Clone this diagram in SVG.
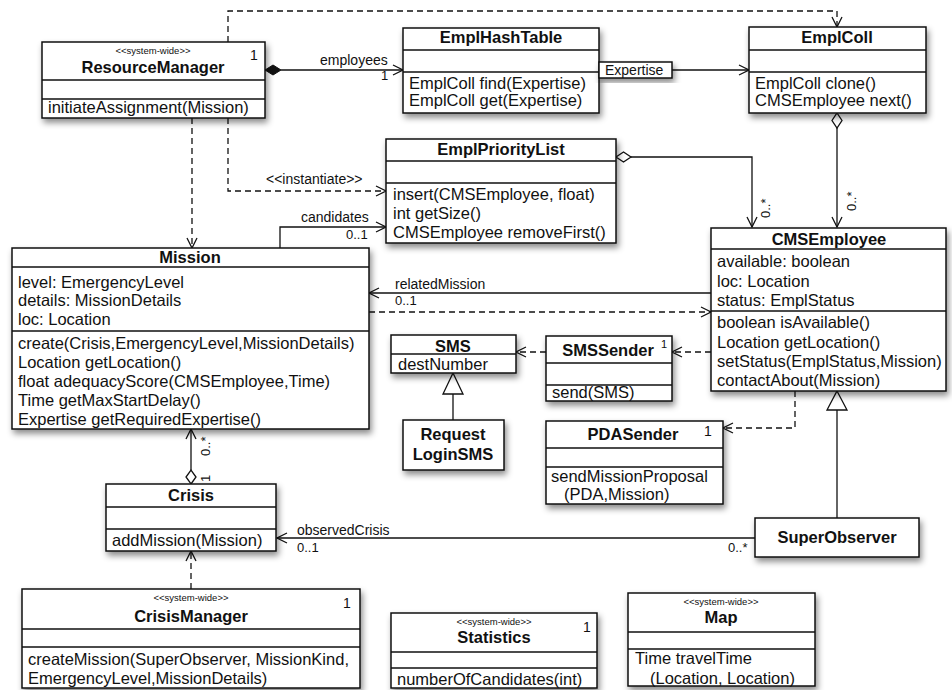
<svg xmlns="http://www.w3.org/2000/svg" width="952" height="690" viewBox="0 0 952 690">
<style>
text{font-family:"Liberation Sans",Arial,Helvetica,sans-serif;fill:#111}
.b{fill:#fff;stroke:#111;stroke-width:1.5}
.d{stroke:#111;stroke-width:1.3;fill:none}
.t{font-size:16.5px}
.n{font-size:16.5px;font-weight:bold;text-anchor:middle}
.s{font-size:9.5px;text-anchor:middle}
.l{font-size:14px}
.m{font-size:13px}
.c{stroke:#111;stroke-width:1.3;fill:none}
.da{stroke-dasharray:6,4}
</style>
<defs>
<filter id="sh" x="-10%" y="-10%" width="130%" height="140%">
<feDropShadow dx="2" dy="4" stdDeviation="3" flood-color="#000" flood-opacity="0.45"/>
</filter>
<marker id="ar" markerWidth="12" markerHeight="12" refX="11" refY="6" orient="auto" markerUnits="userSpaceOnUse">
<path d="M1,1 L11,6 L1,11" fill="none" stroke="#111" stroke-width="1.3"/>
</marker>
</defs>
<rect width="952" height="690" fill="#fff"/>

<g id="connectors">
<path class="c da" d="M228,42 V11 H837 V27" marker-end="url(#ar)"/>
<path class="c" d="M281,70 H403" marker-end="url(#ar)"/>
<path d="M265,70 L273,65 L281,70 L273,75 Z" fill="#111" stroke="#111" stroke-width="1"/>
<text class="l" x="320" y="65">employees</text>
<text class="m" x="381" y="80">1</text>
<path class="c" d="M672,70 H749" marker-end="url(#ar)"/>
<path class="c" d="M837,128 V227" marker-end="url(#ar)"/>
<path d="M837,113 L842,120.5 L837,128 L832,120.5 Z" fill="#fff" stroke="#111" stroke-width="1.3"/>
<text class="m" transform="translate(856,211) rotate(-90)">0..*</text>
<path class="c" d="M631,157 H752 V227" marker-end="url(#ar)"/>
<path d="M616,157 L623.5,152 L631,157 L623.5,162 Z" fill="#fff" stroke="#111" stroke-width="1.3"/>
<text class="m" transform="translate(770,218) rotate(-90)">0..*</text>
<path class="c da" d="M228,118 V191 H386" marker-end="url(#ar)"/>
<text class="l" x="266" y="184">&lt;&lt;instantiate&gt;&gt;</text>
<path class="c" d="M280,248 V227 H386" marker-end="url(#ar)"/>
<text class="l" x="301" y="222">candidates</text>
<text class="m" x="346" y="239">0..1</text>
<path class="c da" d="M192,118 V248" marker-end="url(#ar)"/>
<path class="c" d="M711,293 H369" marker-end="url(#ar)"/>
<text class="l" x="395" y="289">relatedMission</text>
<text class="m" x="395" y="305">0..1</text>
<path class="c da" d="M369,312 H711" marker-end="url(#ar)"/>
<path class="c da" d="M711,352 H672" marker-end="url(#ar)"/>
<path class="c da" d="M546,352 H516" marker-end="url(#ar)"/>
<path class="c da" d="M795,391 V428 H723" marker-end="url(#ar)"/>
<path class="c" d="M837,518 V410"/>
<path d="M837,391 L847,410 L827,410 Z" fill="#fff" stroke="#111" stroke-width="1.3"/>
<path class="c" d="M453,420 V394"/>
<path d="M453,373 L463,394 L443,394 Z" fill="#fff" stroke="#111" stroke-width="1.3"/>
<path class="c" d="M755,538 H277" marker-end="url(#ar)"/>
<text class="l" x="297" y="535">observedCrisis</text>
<text class="m" x="297" y="552">0..1</text>
<text class="m" x="728" y="552">0..*</text>
<path class="c" d="M191,470 V429" marker-end="url(#ar)"/>
<path d="M191,484 L196,477 L191,470 L186,477 Z" fill="#fff" stroke="#111" stroke-width="1.3"/>
<text class="m" transform="translate(210,456) rotate(-90)">0..*</text>
<text class="m" transform="translate(210,482) rotate(-90)">1</text>
<path class="c da" d="M191,589 V551" marker-end="url(#ar)"/>
</g>

<g id="ResourceManager">
<rect class="b" x="42" y="42" width="223" height="76" filter="url(#sh)"/>
<path class="d" d="M42,80 H265 M42,99 H265"/>
<text class="s" x="153" y="54">&lt;&lt;system-wide&gt;&gt;</text>
<text class="n" x="153" y="73">ResourceManager</text>
<text class="l" x="250" y="60">1</text>
<text class="t" x="48" y="113">initiateAssignment(Mission)</text>
</g>

<g id="EmplHashTable">
<rect class="b" x="403" y="28" width="196" height="85" filter="url(#sh)"/>
<path class="d" d="M403,50 H599 M403,72 H599"/>
<text class="n" x="501" y="43">EmplHashTable</text>
<text class="t" x="409" y="89">EmplColl find(Expertise)</text>
<text class="t" x="409" y="106">EmplColl get(Expertise)</text>
</g>

<g id="QualifierExpertise">
<rect class="b" x="599" y="62" width="73" height="16" filter="url(#sh)"/>
<text class="l" x="605" y="75">Expertise</text>
</g>

<g id="EmplColl">
<rect class="b" x="749" y="27" width="177" height="86" filter="url(#sh)"/>
<path class="d" d="M749,50 H926 M749,72 H926"/>
<text class="n" x="837" y="43">EmplColl</text>
<text class="t" x="755" y="89">EmplColl clone()</text>
<text class="t" x="755" y="106">CMSEmployee next()</text>
</g>

<g id="EmplPriorityList">
<rect class="b" x="386" y="139" width="230" height="104" filter="url(#sh)"/>
<path class="d" d="M386,161 H616 M386,183 H616"/>
<text class="n" x="501" y="155">EmplPriorityList</text>
<text class="t" x="393" y="200">insert(CMSEmployee, float)</text>
<text class="t" x="393" y="219">int getSize()</text>
<text class="t" x="393" y="238">CMSEmployee removeFirst()</text>
</g>

<g id="Mission">
<rect class="b" x="12" y="248" width="357" height="181" filter="url(#sh)"/>
<path class="d" d="M12,267 H369 M12,331 H369"/>
<text class="n" x="190" y="263">Mission</text>
<text class="t" x="18" y="288">level: EmergencyLevel</text>
<text class="t" x="18" y="306">details: MissionDetails</text>
<text class="t" x="18" y="325">loc: Location</text>
<text class="t" x="18" y="349">create(Crisis,EmergencyLevel,MissionDetails)</text>
<text class="t" x="18" y="368">Location getLocation()</text>
<text class="t" x="18" y="387">float adequacyScore(CMSEmployee,Time)</text>
<text class="t" x="18" y="406">Time getMaxStartDelay()</text>
<text class="t" x="18" y="425">Expertise getRequiredExpertise()</text>
</g>

<g id="CMSEmployee">
<rect class="b" x="711" y="228" width="235" height="163" filter="url(#sh)"/>
<path class="d" d="M711,249 H946 M711,311 H946"/>
<text class="n" x="829" y="245">CMSEmployee</text>
<text class="t" x="717" y="267">available: boolean</text>
<text class="t" x="717" y="287">loc: Location</text>
<text class="t" x="717" y="306">status: EmplStatus</text>
<text class="t" x="717" y="328">boolean isAvailable()</text>
<text class="t" x="717" y="348">Location getLocation()</text>
<text class="t" x="717" y="367">setStatus(EmplStatus,Mission)</text>
<text class="t" x="717" y="386">contactAbout(Mission)</text>
</g>

<g id="SMS">
<rect class="b" x="391" y="335" width="125" height="38" filter="url(#sh)"/>
<path class="d" d="M391,354 H516"/>
<text class="n" x="453" y="352">SMS</text>
<text class="t" x="398" y="370">destNumber</text>
</g>

<g id="SMSSender">
<rect class="b" x="546" y="336" width="126" height="65" filter="url(#sh)"/>
<path class="d" d="M546,363 H672 M546,385 H672"/>
<text class="n" x="608" y="356">SMSSender</text>
<text x="661" y="348" font-size="11">1</text>
<text class="t" x="552" y="398">send(SMS)</text>
</g>

<g id="RequestLoginSMS">
<rect class="b" x="403" y="420" width="101" height="50" filter="url(#sh)"/>
<text class="n" x="453" y="440">Request</text>
<text class="n" x="453" y="460">LoginSMS</text>
</g>

<g id="PDASender">
<rect class="b" x="546" y="421" width="177" height="83" filter="url(#sh)"/>
<path class="d" d="M546,448 H723 M546,467 H723"/>
<text class="n" x="633" y="440">PDASender</text>
<text class="l" x="704" y="436">1</text>
<text class="t" x="551" y="482">sendMissionProposal</text>
<text class="t" x="564" y="500">(PDA,Mission)</text>
</g>

<g id="SuperObserver">
<rect class="b" x="755" y="518" width="164" height="39" filter="url(#sh)"/>
<text class="n" x="837" y="543">SuperObserver</text>
</g>

<g id="Crisis">
<rect class="b" x="106" y="484" width="170" height="67" filter="url(#sh)"/>
<path class="d" d="M106,507 H276 M106,529 H276"/>
<text class="n" x="191" y="501">Crisis</text>
<text class="t" x="112" y="546">addMission(Mission)</text>
</g>

<g id="CrisisManager">
<rect class="b" x="22" y="589" width="338" height="99" filter="url(#sh)"/>
<path class="d" d="M22,629 H360 M22,647 H360"/>
<text class="s" x="191" y="601">&lt;&lt;system-wide&gt;&gt;</text>
<text class="n" x="191" y="622">CrisisManager</text>
<text class="l" x="343" y="608">1</text>
<text class="t" x="28" y="665">createMission(SuperObserver, MissionKind,</text>
<text class="t" x="28" y="684">EmergencyLevel,MissionDetails)</text>
</g>

<g id="Statistics">
<rect class="b" x="391" y="613" width="206" height="75" filter="url(#sh)"/>
<path class="d" d="M391,652 H597 M391,668 H597"/>
<text class="s" x="494" y="625">&lt;&lt;system-wide&gt;&gt;</text>
<text class="n" x="494" y="643">Statistics</text>
<text class="l" x="583" y="632">1</text>
<text class="t" x="397" y="685">numberOfCandidates(int)</text>
</g>

<g id="Map">
<rect class="b" x="628" y="593" width="187" height="93" filter="url(#sh)"/>
<path class="d" d="M628,632 H815 M628,649 H815"/>
<text class="s" x="721" y="605">&lt;&lt;system-wide&gt;&gt;</text>
<text class="n" x="721" y="623">Map</text>
<text class="t" x="635" y="664">Time travelTime</text>
<text class="t" x="650" y="684">(Location, Location)</text>
</g>
</svg>
